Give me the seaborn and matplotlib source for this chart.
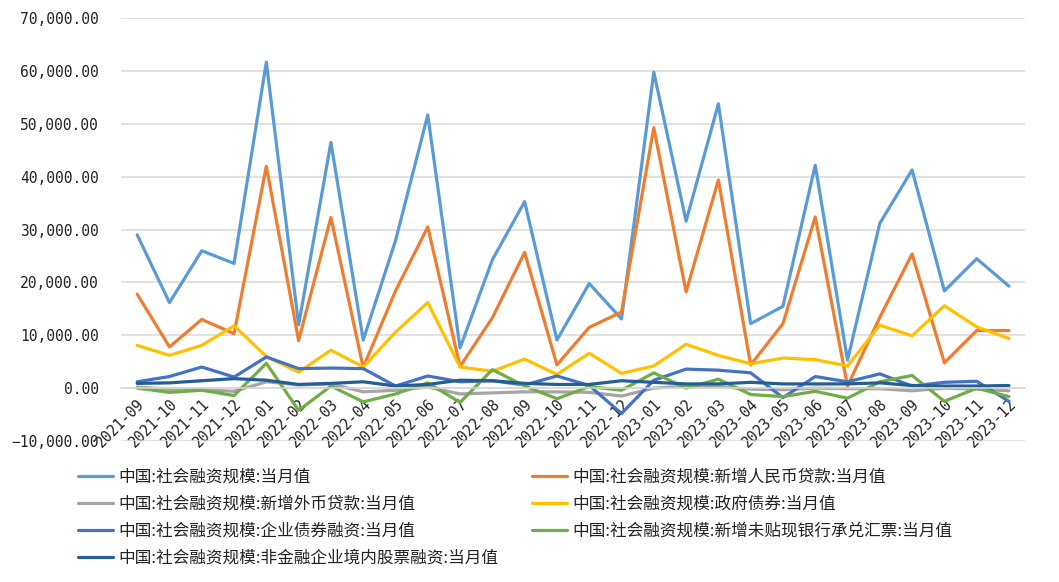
import pandas as pd
import seaborn as sns
import matplotlib.pyplot as plt
from matplotlib.ticker import FixedLocator, StrMethodFormatter

# 月份
months = ['2021-09', '2021-10', '2021-11', '2021-12',
          '2022-01', '2022-02', '2022-03', '2022-04', '2022-05', '2022-06',
          '2022-07', '2022-08', '2022-09', '2022-10', '2022-11', '2022-12',
          '2023-01', '2023-02', '2023-03', '2023-04', '2023-05', '2023-06',
          '2023-07', '2023-08', '2023-09', '2023-10', '2023-11', '2023-12']

# 社会融资规模各项 (亿元, 从图上读取)
total = [29026, 16176, 26000, 23600, 61700, 12000, 46500, 9100, 27900, 51700,
         7600, 24300, 35300, 9100, 19800, 13100, 59800, 31600, 53800, 12200,
         15500, 42200, 5300, 31200, 41300, 18400, 24500, 19300]
rmb_loans = [17800, 7800, 13000, 10300, 42000, 9000, 32300, 3900, 18400, 30500,
             4100, 13300, 25700, 4400, 11500, 14400, 49300, 18200, 39400, 4400,
             12200, 32400, 400, 13400, 25400, 4800, 10900, 10900]
fx_loans = [200, -200, -300, -600, 1200, 600, 800, -700, -400, 200,
            -1100, -900, -700, -700, -800, -1500, 0, 400, 300, -200,
            -300, 0, -100, -100, -500, 0, -200, -500]
gov_bonds = [8100, 6200, 8100, 11800, 6000, 3000, 7200, 4000, 10600, 16200,
             4000, 3200, 5500, 2600, 6600, 2800, 4200, 8300, 6200, 4600,
             5700, 5400, 4200, 11900, 9900, 15600, 11600, 9400]
corp_bonds = [1200, 2200, 4000, 2100, 5900, 3700, 3800, 3700, 400, 2300,
              1200, 1400, 600, 2300, 500, -4800, 1500, 3600, 3400, 2900,
              -1800, 2200, 1200, 2700, 400, 1100, 1300, -2500]
bills = [0, -800, -400, -1400, 4700, -4200, 400, -2600, -1100, 1000,
         -2700, 3500, 400, -2000, 300, -400, 2900, 0, 1700, -1200,
         -1600, -600, -1900, 1200, 2400, -2500, 0, -1600]
equity = [900, 1000, 1400, 1800, 1500, 700, 900, 1200, 400, 700,
          1500, 1400, 900, 700, 700, 1400, 1100, 800, 800, 1100,
          800, 800, 800, 1000, 500, 400, 400, 500]

names = ['中国:社会融资规模:当月值',
         '中国:社会融资规模:新增人民币贷款:当月值',
         '中国:社会融资规模:新增外币贷款:当月值',
         '中国:社会融资规模:政府债券:当月值',
         '中国:社会融资规模:企业债券融资:当月值',
         '中国:社会融资规模:新增未贴现银行承兑汇票:当月值',
         '中国:社会融资规模:非金融企业境内股票融资:当月值']
colors = ['#5B9BD5', '#ED7D31', '#A5A5A5', '#FFC000', '#4472C4', '#70AD47', '#255E91']
series = [total, rmb_loans, fx_loans, gov_bonds, corp_bonds, bills, equity]

frames = []
for name, vals in zip(names, series):
    frames.append(pd.DataFrame({'idx': range(len(months)), 'value': vals, 'series': name}))
df = pd.concat(frames, ignore_index=True)

sns.set_style('white')
plt.rcParams['font.family'] = ['Noto Sans CJK SC', 'DejaVu Sans']

fig = plt.figure(figsize=(10.59, 5.82), dpi=100)
ax = fig.add_axes([0.1143, 0.2423, 0.8537, 0.7263])

sns.lineplot(data=df, x='idx', y='value', hue='series', hue_order=names,
             palette=colors, lw=2.3, sort=False, legend=False, ax=ax)

ax.set_xlim(-0.5, len(months) - 0.5)
ax.set_ylim(-10000, 70000)
ax.set_xlabel('')
ax.set_ylabel('')

# 网格和坐标轴
ax.yaxis.grid(True, color='#D9D9D9', lw=1.1)
ax.xaxis.grid(False)
for s in ['top', 'right', 'left']:
    ax.spines[s].set_visible(False)
ax.spines['bottom'].set_position(('data', 0))
ax.spines['bottom'].set_color('#D9D9D9')
ax.spines['bottom'].set_linewidth(1.1)

ax.set_yticks(range(-10000, 70001, 10000))
ax.yaxis.set_major_formatter(StrMethodFormatter('{x:,.2f}'))
ax.tick_params(axis='y', length=0, pad=16, labelsize=10.5, labelcolor='#222222')
for lab in ax.get_yticklabels():
    lab.set_fontfamily('DejaVu Sans Mono')

ax.set_xticks(range(len(months)))
ax.set_xticklabels(months, rotation=45, ha='right', va='top',
                   rotation_mode='anchor', fontfamily='DejaVu Sans Mono')
ax.tick_params(axis='x', length=0, pad=6, labelsize=10.5, labelcolor='#222222')
ax.xaxis.set_minor_locator(FixedLocator([-0.5, 5.5, 11.5, 17.5, 23.5, 27.5]))
ax.tick_params(axis='x', which='minor', length=4, width=1.1, color='#D9D9D9', direction='out')

# 图例: 两列, 按行排列
lines = ax.get_lines()[:len(names)]
col1 = [0, 2, 4, 6]
col2 = [1, 3, 5]
leg_kw = dict(frameon=False, loc='upper left', borderpad=0, borderaxespad=0,
              handlelength=2.1, handletextpad=0.3, labelspacing=0.6,
              prop={'size': 12}, labelcolor='#222222')
fig.legend([lines[i] for i in col1], [names[i] for i in col1],
           bbox_to_anchor=(78 / 1059, 1 - 469 / 582), **leg_kw)
fig.legend([lines[i] for i in col2], [names[i] for i in col2],
           bbox_to_anchor=(532 / 1059, 1 - 469 / 582), **leg_kw)

plt.savefig('out.png', dpi=100)
